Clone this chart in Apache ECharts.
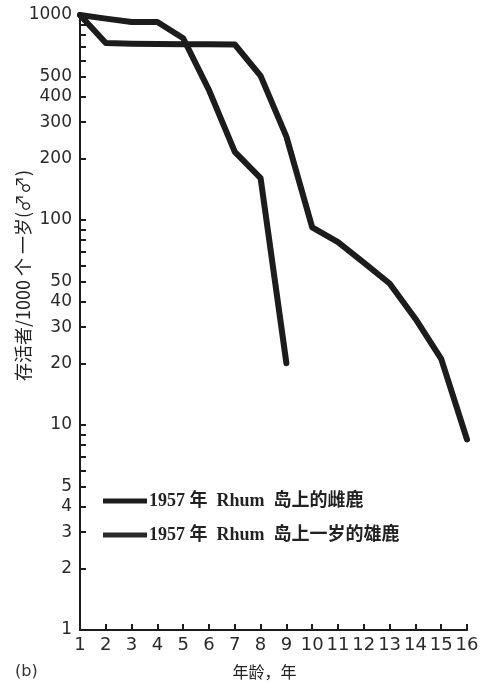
<!DOCTYPE html>
<html><head><meta charset="utf-8">
<script src="https://cdn.jsdelivr.net/npm/echarts@6/dist/echarts.min.js"></script>
<style>html,body{margin:0;padding:0;background:#fff}#c{width:480px;height:685px}</style>
</head><body><div id="c"></div>
<script>
const ages = [1,2,3,4,5,6,7,8,9,10,11,12,13,14,15,16];
const hindName = '1957 年  Rhum  岛上的雌鹿';
const stagName = '1957 年  Rhum  岛上一岁的雄鹿';
const hinds = [1000, 730, 725, 722, 720, 720, 718, 505, 255, 92, 78, 62, 49, 33, 21, 8.5];
const stags = [1000, 960, 925, 925, 770, 430, 215, 160, 20];
const yLabelValues = [1,2,3,4,5,10,20,30,40,50,100,200,300,400,500,1000];
const yMinorValues = [6,7,8,9,60,70,80,90,600,700,800,900];
const xTickLabels = ['1','2','3','4','5','6','7','8','9','10','11','12','13','14','15','16'];
const yName = '存活者/1000 个 一岁(♂♂)';
const xName = '年龄，年';

const chart = echarts.init(document.getElementById('c'), null, {renderer:'canvas'});
const ink = '#1c1c1c';
const toPairs = (xs, ys) => ys.map((v, i) => [xs[i], v]);
chart.setOption({
  backgroundColor: '#fff',
  animation: false,
  grid: {left: 80, right: 13, top: 15, bottom: 55, containLabel: false, outerBoundsMode: 'none'},
  legend: {
    orient: 'vertical', left: 98, top: 487, itemGap: 16,
    icon: 'rect', itemWidth: 44, itemHeight: 5,
    textStyle: {fontFamily: 'Liberation Serif, "Noto Sans CJK SC", serif', fontSize: 18, fontWeight: 'bold', color: '#222', padding: [0,0,0,-3]},
    data: [hindName, stagName]
  },
  xAxis: {
    type: 'value', min: 1, max: 16, interval: 1,
    name: xName, nameLocation: 'middle', nameGap: 34, nameMoveOverlap: false,
    nameTextStyle: {fontFamily: '"Noto Sans CJK SC"', fontSize: 16, color: '#222', padding: [0, 18, 0, 0]},
    axisLine: {show: true, lineStyle: {color: ink, width: 2}},
    axisTick: {show: true, inside: true, length: 6, lineStyle: {color: ink, width: 2}},
    axisLabel: {margin: 6, fontFamily: 'DejaVu Sans', fontSize: 18, color: '#2a2a2a',
      formatter: (v) => xTickLabels[Math.round(v) - 1] || ''},
    splitLine: {show: false}
  },
  yAxis: {
    type: 'log', logBase: 10, min: 1, max: 1000,
    name: yName, nameLocation: 'middle', nameGap: 48, nameMoveOverlap: false,
    nameTextStyle: {fontFamily: '"Noto Sans CJK SC"', fontSize: 18, color: '#222', padding: [0, 0, 0, 94]},
    axisLine: {show: true, lineStyle: {color: ink, width: 2}},
    axisTick: {show: true, inside: true, length: 6, lineStyle: {color: ink, width: 2},
      customValues: yLabelValues.concat(yMinorValues)},
    axisLabel: {margin: 8, fontFamily: 'DejaVu Sans', fontSize: 17, color: '#2a2a2a',
      customValues: yLabelValues, formatter: (v) => String(Math.round(v))},
    splitLine: {show: false}
  },
  graphic: [{type: 'text', left: 15, top: 664, style: {text: '(b)', font: '16px "DejaVu Sans"', fill: '#333'}}],
  series: [
    {name: hindName, type: 'line', data: toPairs(ages, hinds), showSymbol: false, symbol: 'none',
     lineStyle: {color: ink, width: 6, join: 'round', cap: 'round'}, itemStyle: {color: ink}},
    {name: stagName, type: 'line', data: toPairs(ages, stags), showSymbol: false, symbol: 'none',
     lineStyle: {color: ink, width: 6, join: 'round', cap: 'round'}, itemStyle: {color: '#2a2a2a'}}
  ]
});
</script></body></html>
